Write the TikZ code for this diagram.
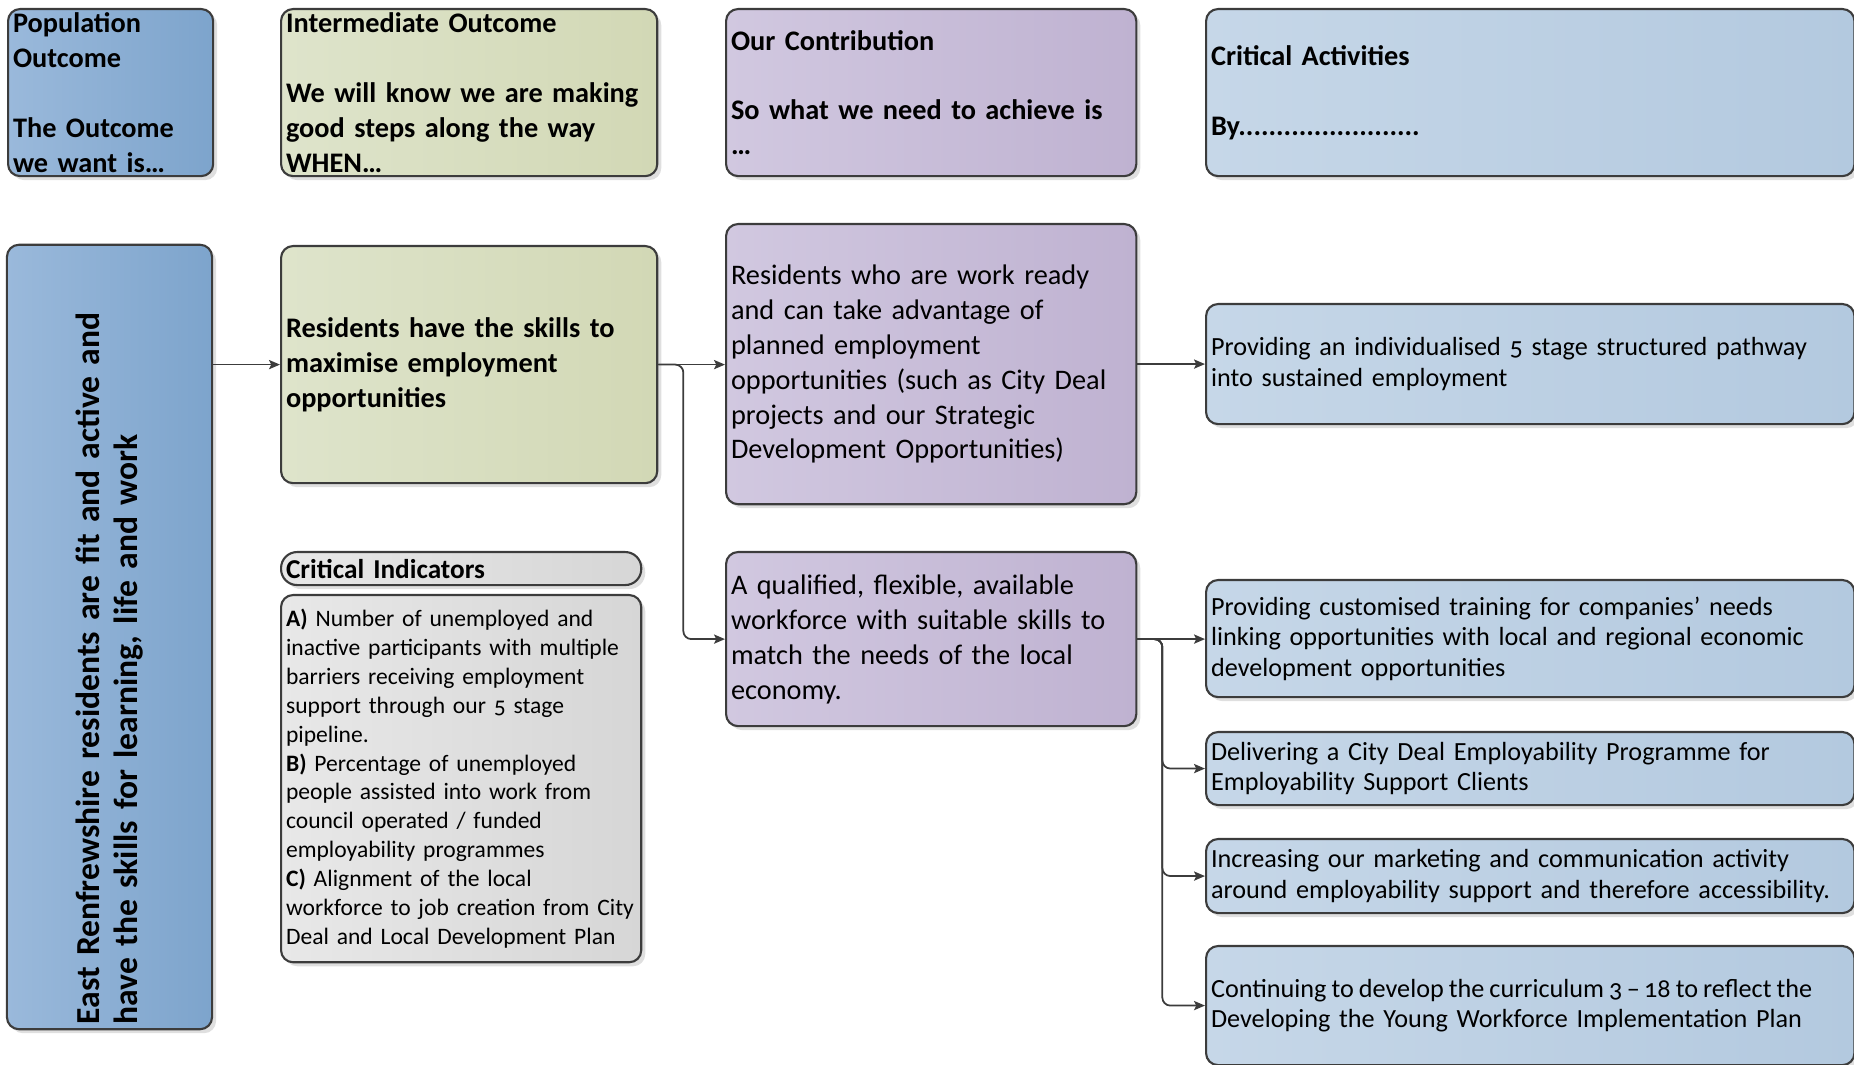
\documentclass[tikz,border=0pt]{standalone}
\usepackage{fontspec}
\setmainfont{Carlito}[Numbers=OldStyle]
\usetikzlibrary{arrows.meta,shadows}

\definecolor{edgegrey}{HTML}{3C3C3C}
\definecolor{popA}{HTML}{9AB9DB}
\definecolor{popB}{HTML}{7DA4CC}
\definecolor{greenA}{HTML}{DEE4CB}
\definecolor{greenB}{HTML}{D2D8B5}
\definecolor{purpA}{HTML}{D1C8E0}
\definecolor{purpB}{HTML}{BFB2D1}
\definecolor{actA}{HTML}{C6D7E8}
\definecolor{actB}{HTML}{B3C9DF}
\definecolor{greyA}{HTML}{E8E8E8}
\definecolor{greyB}{HTML}{D6D6D6}

\tikzset{
  cell/.style={draw=edgegrey, line width=0.6pt, rounded corners=0.12cm,
    inner xsep=0.05cm, inner ysep=0pt, align=left, anchor=north west,
    drop shadow={shadow xshift=0.04cm, shadow yshift=-0.04cm, opacity=0.25}},
  popcell/.style={cell, left color=popA, right color=popB},
  greencell/.style={cell, left color=greenA, right color=greenB},
  purplecell/.style={cell, left color=purpA, right color=purpB},
  actcell/.style={cell, left color=actA, right color=actB},
  greycell/.style={cell, left color=greyA, right color=greyB},
  headtext/.style={font=\bfseries\fontsize{8.05}{9.93}\selectfont},
  bodytext/.style={font=\fontsize{8.05}{9.93}\selectfont},
  acttext/.style={font=\fontsize{7.45}{8.7}\selectfont},
  smalltext/.style={font=\fontsize{6.7}{8.2}\selectfont},
  tagtext/.style={font=\bfseries\fontsize{7.75}{8.2}\selectfont},
  sidetext/.style={font=\bfseries\fontsize{9.55}{10.7}\selectfont},
  link/.style={draw=edgegrey, line width=0.5pt, rounded corners=0.08cm,
    -{Stealth[length=3.1pt,width=2.6pt,inset=0.6pt]}}
}

\begin{document}
\begin{tikzpicture}[x=0.01cm, y=-0.01cm]
\useasboundingbox (0,0) rectangle (1854,1065);

% header row
\node[popcell, headtext, minimum width=2.05cm, minimum height=1.67cm, text width=1.95cm] (pophead) at (7,8)
  {Population\\Outcome\\[\baselineskip]The Outcome\\we want is…};
\node[greencell, headtext, minimum width=3.76cm, minimum height=1.67cm, text width=3.66cm] (interhead) at (280,8)
  {Intermediate Outcome\\[\baselineskip]We will know we are making\\good steps along the way\\WHEN…};
\node[purplecell, headtext, minimum width=4.10cm, minimum height=1.67cm, text width=4.00cm] (contribhead) at (725,8)
  {Our Contribution\\[\baselineskip]So what we need to achieve is\\…};
\node[actcell, headtext, minimum width=6.48cm, minimum height=1.67cm, text width=6.38cm] (acthead) at (1205,8)
  {Critical Activities\\[\baselineskip]By........................};

% outcome and indicators
\node[popcell, sidetext, anchor=center, rotate=90, minimum width=7.84cm, minimum height=2.05cm, text width=7.74cm] (outcome) at (109.5,637)
  {East Renfrewshire residents are fit and active and\\have the skills for learning, life and work};
\node[greencell, headtext, minimum width=3.76cm, minimum height=2.37cm, text width=3.66cm] (skills) at (280,245)
  {Residents have the skills to\\maximise employment\\opportunities};
\node[greycell, tagtext, rounded corners=0.16cm, minimum width=3.60cm, minimum height=0.33cm, text width=3.50cm] (indhead) at (280,551)
  {Critical Indicators};
\node[greycell, smalltext, minimum width=3.60cm, minimum height=3.67cm, text width=3.50cm] (indbody) at (280,594)
  {\textbf{A)} Number of unemployed and\\inactive participants with multiple\\barriers receiving employment\\support through our 5 stage\\pipeline.\\
   \textbf{B)} Percentage of unemployed\\people assisted into work from\\council operated / funded\\employability programmes\\
   \textbf{C)} Alignment of the local\\workforce to job creation from City\\Deal and Local Development Plan};

% contribution
\node[purplecell, bodytext, minimum width=4.10cm, minimum height=2.80cm, text width=4.00cm] (ready) at (725,223)
  {Residents who are work ready\\and can take advantage of\\planned employment\\opportunities (such as City Deal\\projects and our Strategic\\Development Opportunities)};
\node[purplecell, bodytext, minimum width=4.10cm, minimum height=1.74cm, text width=4.00cm] (workforce) at (725,551)
  {A qualified, flexible, available\\workforce with suitable skills to\\match the needs of the local\\economy.};

% activities
\node[actcell, acttext, minimum width=6.48cm, minimum height=1.20cm, text width=6.38cm] (pathway) at (1205,303)
  {Providing an individualised 5 stage structured pathway\\into sustained employment};
\node[actcell, acttext, minimum width=6.48cm, minimum height=1.17cm, text width=6.38cm] (training) at (1205,579)
  {Providing customised training for companies’ needs\\linking opportunities with local and regional economic\\development opportunities};
\node[actcell, acttext, minimum width=6.48cm, minimum height=0.73cm, text width=6.38cm] (citydeal) at (1205,731)
  {Delivering a City Deal Employability Programme for\\Employability Support Clients};
\node[actcell, acttext, minimum width=6.48cm, minimum height=0.74cm, text width=6.38cm] (marketing) at (1205,838)
  {Increasing our marketing and communication activity\\around employability support and therefore accessibility.};
\node[actcell, acttext, minimum width=6.48cm, minimum height=1.19cm, text width=6.38cm] (curriculum) at (1205,945)
  {\mbox{\spaceskip=0.85\fontdimen2\font Continuing to develop the curriculum 3\,–\,18 to reflect the}\\Developing the Young Workforce Implementation Plan};

% connectors
\draw[link] (outcome.south |- skills.west) -- (skills.west);
\draw[link] (skills.east) -- (skills.east -| ready.west);
\draw[link] (skills.east) -- ++(25,0) |- (workforce.west);
\draw[link] (ready.east |- pathway.west) -- (pathway.west);
\draw[link] (workforce.east) -- (workforce.east -| training.west);
\foreach \act in {citydeal, marketing, curriculum}
  \draw[link] (workforce.east) -- ++(25,0) |- (\act.west);
\end{tikzpicture}
\end{document}
